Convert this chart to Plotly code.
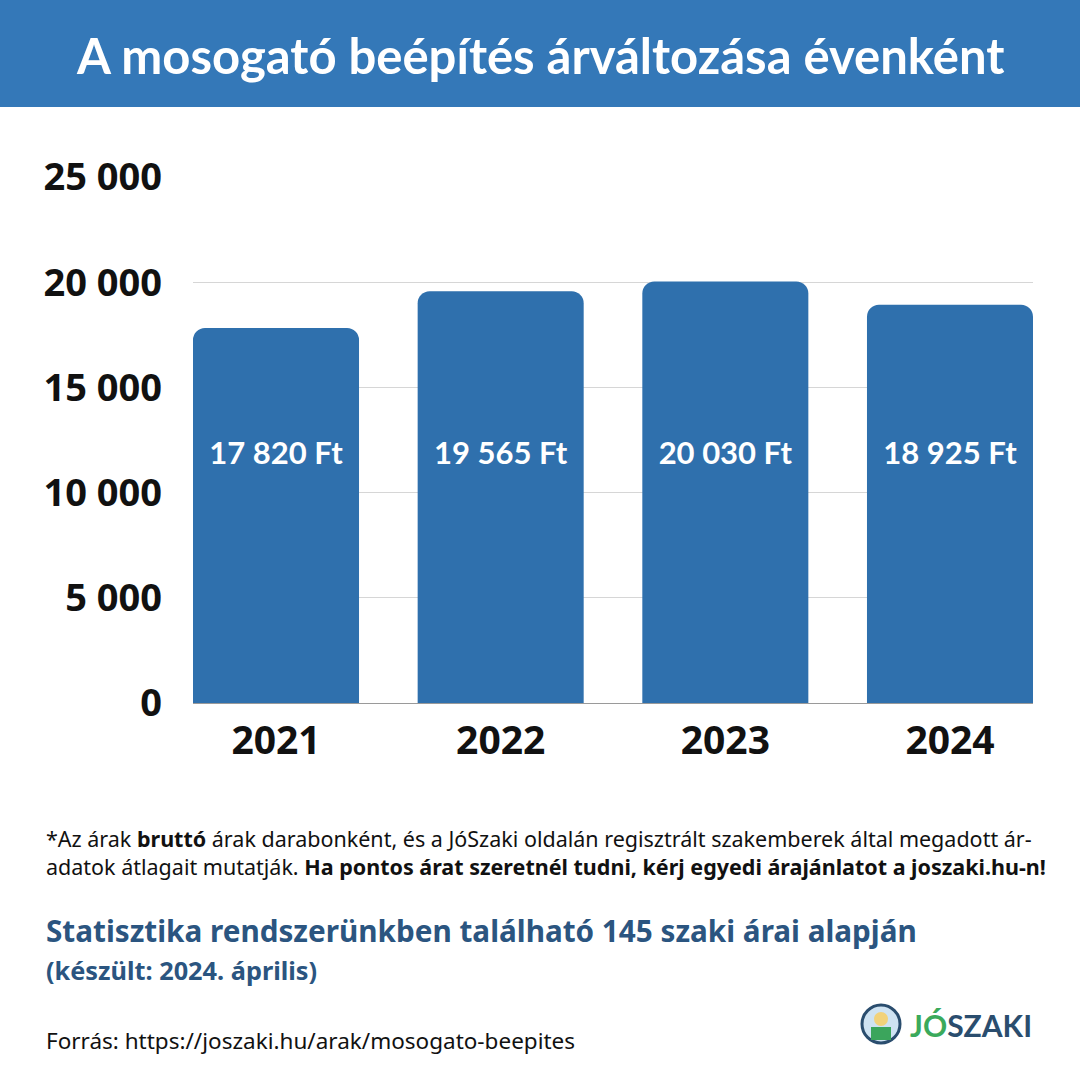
import plotly.graph_objects as go

years = ["2021", "2022", "2023", "2024"]
prices = [17820, 19565, 20030, 18925]
price_labels = ["17 820 Ft", "19 565 Ft", "20 030 Ft", "18 925 Ft"]
tick_vals = [0, 5000, 10000, 15000, 20000, 25000]
tick_text = ["0", "5 000", "10 000", "15 000", "20 000", "25 000"]
label_y = 11750

W, H = 1080, 1080
ML, MR, MT, MB = 193, 47, 177, 377
PW, PH = W - ML - MR, H - MT - MB

def px(x):
    return (x - ML) / PW

def py(y):
    return (H - MB - y) / PH

BLUE = "#3478B8"
BAR = "#2F70AD"
DARK = "#2B5580"

idx = list(range(len(years)))
BW = 0.739

fig = go.Figure()
fig.add_trace(go.Bar(
    x=idx, y=prices, width=BW,
    marker=dict(color=BAR, cornerradius=12, line=dict(width=0)),
    hoverinfo="skip",
))
fig.add_trace(go.Scatter(
    x=idx, y=[label_y] * len(idx), mode="text", text=price_labels,
    textposition="middle center",
    textfont=dict(family="Lato, Open Sans", size=31, color="white", weight="bold"),
    hoverinfo="skip",
))

# header band
fig.add_shape(type="rect", xref="paper", yref="paper",
              x0=px(0), x1=px(W), y0=py(107), y1=py(0),
              fillcolor=BLUE, line=dict(width=0), layer="below")
fig.add_annotation(xref="paper", yref="paper", x=px(540), y=py(55),
                   text="A mosogató beépítés árváltozása évenként", showarrow=False,
                   font=dict(family="Lato, Open Sans", size=49, color="white", weight="bold"),
                   xanchor="center", yanchor="middle")

# footnote
fig.add_annotation(xref="paper", yref="paper", x=px(44), y=py(852),
                   text="*Az árak <b>bruttó</b> árak darabonként, és a JóSzaki oldalán regisztrált szakemberek által megadott ár-<br>"
                        "adatok átlagait mutatják. <b>Ha pontos árat szeretnél tudni, kérj egyedi árajánlatot a joszaki.hu-n!</b>",
                   showarrow=False, align="left", xanchor="left", yanchor="middle",
                   font=dict(family="Noto Sans", size=21.5, color="#111111"))
fig.add_annotation(xref="paper", yref="paper", x=px(44), y=py(930),
                   text="<b>Statisztika rendszerünkben található 145 szaki árai alapján</b>",
                   showarrow=False, xanchor="left", yanchor="middle",
                   font=dict(family="Noto Sans", size=29.7, color=DARK))
fig.add_annotation(xref="paper", yref="paper", x=px(44), y=py(970),
                   text="<b>(készült: 2024. április)</b>",
                   showarrow=False, xanchor="left", yanchor="middle",
                   font=dict(family="Noto Sans", size=25.3, color=DARK))
fig.add_annotation(xref="paper", yref="paper", x=px(44), y=py(1040),
                   text="Forrás: https://joszaki.hu/arak/mosogato-beepites",
                   showarrow=False, xanchor="left", yanchor="middle",
                   font=dict(family="Noto Sans", size=22.5, color="#111111"))

# logo
fig.add_shape(type="circle", xref="paper", yref="paper",
              x0=px(862), x1=px(900), y0=py(1043), y1=py(1005),
              fillcolor="#CFE3F2", line=dict(color="#2A4D6E", width=3))
fig.add_shape(type="circle", xref="paper", yref="paper",
              x0=px(874), x1=px(888), y0=py(1026), y1=py(1012),
              fillcolor="#F2D27A", line=dict(width=0))
fig.add_shape(type="rect", xref="paper", yref="paper",
              x0=px(871), x1=px(891), y0=py(1040), y1=py(1027),
              fillcolor="#3BA55C", line=dict(width=0))
fig.add_annotation(xref="paper", yref="paper", x=px(908), y=py(1025),
                   text="<span style='color:#3BAA5C'>JÓ</span><span style='color:#2A4D6E'>SZAKI</span>",
                   showarrow=False, xanchor="left", yanchor="middle",
                   font=dict(family="Lato, Open Sans", size=30, weight="bold"))

fig.update_layout(
    width=W, height=H,
    margin=dict(l=ML, r=MR, t=MT, b=MB),
    paper_bgcolor="white", plot_bgcolor="white",
    showlegend=False,
    xaxis=dict(range=[-BW / 2, len(years) - 1 + BW / 2], tickvals=idx, ticktext=years,
               showgrid=False, zeroline=False, showline=True, linecolor="#9a9a9a", linewidth=1,
               ticks="", tickfont=dict(family="Open Sans", size=39, color="#111111", weight="bold"),
               ticklabelstandoff=3),
    yaxis=dict(range=[0, 25000], tickvals=tick_vals, ticktext=tick_text,
               showgrid=True, gridcolor="#d6d6d6", gridwidth=1, zeroline=False,
               showline=False, ticks="",
               tickfont=dict(family="Open Sans", size=38, color="#111111", weight="bold"),
               ticklabelstandoff=30),
)

fig.write_html("out.html")
